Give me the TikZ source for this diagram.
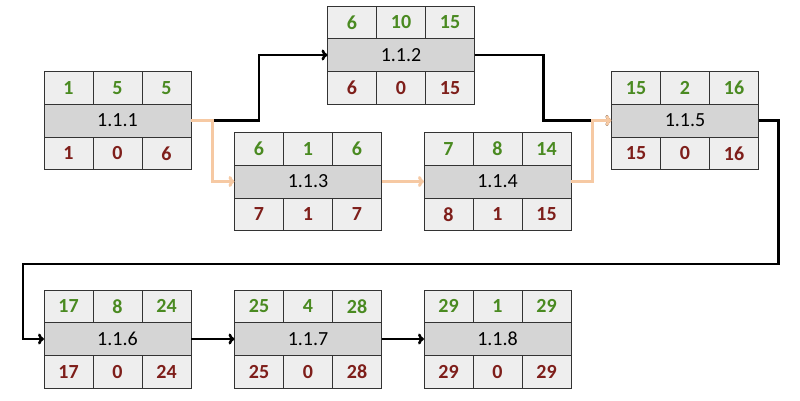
\documentclass[tikz,border=0pt]{standalone}
\usepackage{fontspec}
\setmainfont{Carlito}
\usetikzlibrary{positioning, arrows.meta}

\definecolor{cellgray}{HTML}{EEEEEE}
\definecolor{midgray}{HTML}{D5D5D5}
\definecolor{early}{HTML}{4A8A21}
\definecolor{late}{HTML}{7E1E1A}
\definecolor{peach}{HTML}{F6C9A3}

% one activity: name, centre, label, top values, bottom values
\newcommand{\activity}[5]{
    \node[midrow] (#1) at (#2) {#3};
    \foreach \v [count=\i] in {#4} {
        \node[cell, text=early, anchor=south west] (#1-t\i) at ([xshift={(\i-1)*49pt}]#1.north west) {\v};
    }
    \foreach \v [count=\i] in {#5} {
        \node[cell, text=late, anchor=north west] (#1-b\i) at ([xshift={(\i-1)*49pt}]#1.south west) {\v};
    }
}

\begin{document}
\begin{tikzpicture}[x = 1pt, y = -1pt,
        cell/.style = {draw = black!80, line width = 1pt, fill = cellgray, minimum width = 49pt, minimum height = 32.5pt, inner sep = 0pt, outer sep = 0pt, font = \fontsize{20}{23}\selectfont\bfseries},
        midrow/.style = {draw = black!80, line width = 1pt, fill = midgray, minimum width = 147pt, minimum height = 33pt, inner sep = 0pt, outer sep = 0pt, font = \fontsize{20}{23}\selectfont},
        flow/.style = {draw = black, line width = 2.6pt, -{To[length=6pt, width=11pt]}},
        crit/.style = {draw = peach, line width = 3pt, -{To[length=6pt, width=11pt]}}]
    \useasboundingbox (0,0) rectangle (800,400);

    \activity{n111}{117.5,120.5}{1.1.1}{1,5,5}{1,0,6}
    \activity{n112}{401,55}{1.1.2}{6,10,15}{6,0,15}
    \activity{n113}{308,181.5}{1.1.3}{6,1,6}{7,1,7}
    \activity{n114}{497.5,181.5}{1.1.4}{7,8,14}{8,1,15}
    \activity{n115}{685,120.5}{1.1.5}{15,2,16}{15,0,16}
    \activity{n116}{117.5,339}{1.1.6}{17,8,24}{17,0,24}
    \activity{n117}{308,339}{1.1.7}{25,4,28}{25,0,28}
    \activity{n118}{497.5,339}{1.1.8}{29,1,29}{29,0,29}

    \coordinate (wrap) at (23,264);

    % black links
    \draw[flow] (n111.east) -- ++(68,0) |- (n112.west);
    \draw[flow] (n112.east) -- ++(69,0) |- (n115.west);
    \draw[flow] (n115.east) -- ++(20,0) |- (wrap) |- (n116.west);
    \draw[flow] (n116) -- (n117);
    \draw[flow] (n117) -- (n118);

    % critical path
    \draw[crit] (n111.east) -- ++(21,0) |- (n113.west);
    \draw[crit] (n113) -- (n114);
    \draw[crit] (n114.east) -- ++(21,0) |- (n115.west);
\end{tikzpicture}
\end{document}
